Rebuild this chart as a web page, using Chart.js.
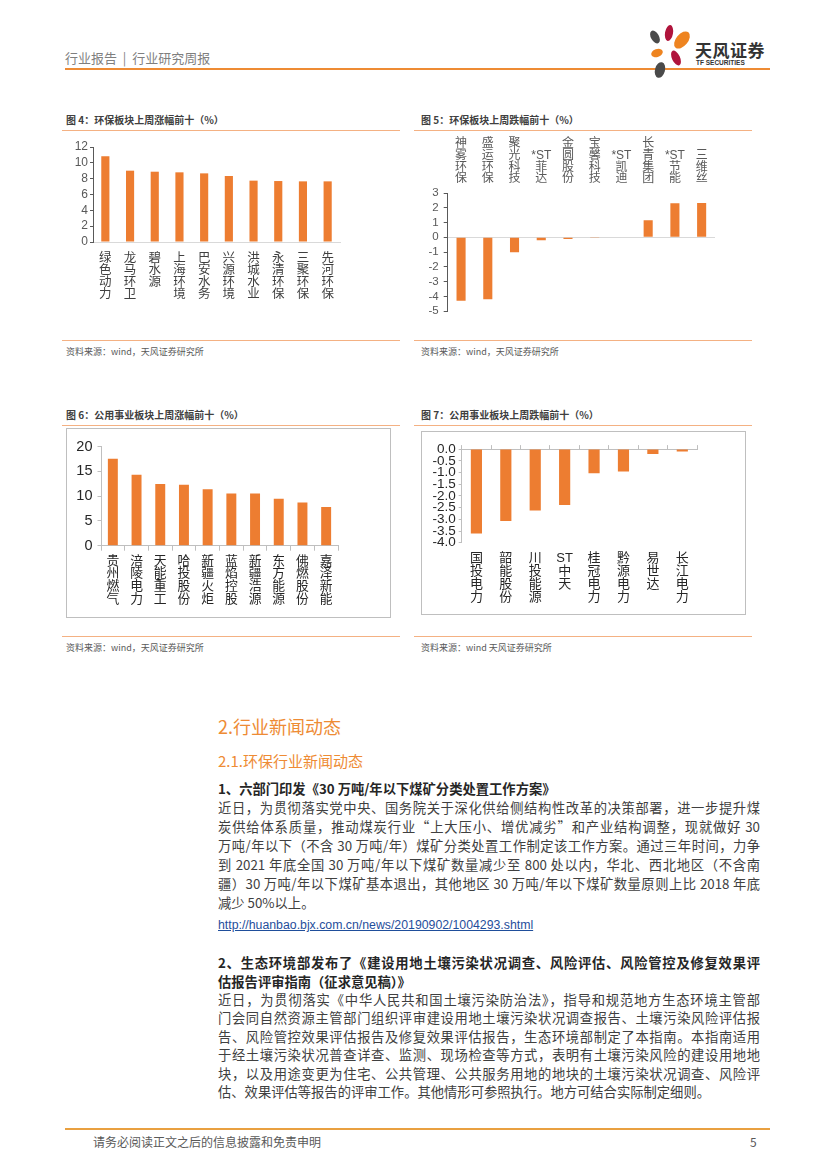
<!DOCTYPE html>
<html>
<head>
<meta charset="utf-8">
<script src="https://cdn.jsdelivr.net/npm/chart.js"></script>
<style>
body { margin: 0; background: #fff; }
#page { position: relative; width: 827px; height: 1169px; overflow: hidden; font-family: "Noto Sans CJK SC", "Liberation Sans", sans-serif; color: #404040; }
.abs { position: absolute; }
.ttl { font-size: 10px; font-weight: bold; color: #404040; white-space: nowrap; line-height: 12px; }
.src { font-size: 9px; color: #595959; white-space: nowrap; line-height: 12px; }
.rule { height: 0; border-top: 1.5px solid #F4B183; }
.box { border: 1px solid #bfbfbf; }
.ln { position: absolute; left: 218px; width: 542px; height: 19px; line-height: 19px; font-size: 13.3px; white-space: nowrap; color: #404040; }
.j { text-align: justify; text-align-last: justify; }
.b { font-weight: bold; color: #262626; }
canvas { position: absolute; }
</style>
</head>
<body>
<div id="page">
  <!-- header -->
  <div class="abs" style="left:65px;top:48px;font-size:13px;color:#7f7f7f;white-space:pre;">行业报告  |  行业研究周报</div>
  <div class="abs" style="left:65px;top:68px;width:705px;border-top:2px solid #EE8B34;"></div>
  <svg class="abs" style="left:640px;top:22px;" width="60" height="58">
    <ellipse cx="29" cy="11" rx="4" ry="8" fill="#B0143C" transform="rotate(10 29 11)"/>
    <ellipse cx="42" cy="18" rx="6" ry="10" fill="#EE8420" transform="rotate(40 42 18)"/>
    <ellipse cx="15" cy="15" rx="4" ry="7" fill="#4a4a4a" transform="rotate(-30 15 15)"/>
    <ellipse cx="17" cy="31" rx="6" ry="4" fill="#EE8420" transform="rotate(-20 17 31)"/>
    <ellipse cx="36" cy="36" rx="4" ry="8" fill="#B0143C" transform="rotate(-25 36 36)"/>
    <ellipse cx="20" cy="48" rx="5" ry="8" fill="#4a4a4a" transform="rotate(15 20 48)"/>
  </svg>
  <div class="abs" style="left:695px;top:37px;font-size:17px;font-weight:bold;color:#333;letter-spacing:0.5px;white-space:nowrap;">天风证券</div>
  <div class="abs" style="left:696px;top:59px;font-size:6.5px;font-weight:bold;color:#333;font-family:'Liberation Sans';white-space:nowrap;">TF SECURITIES</div>

  <!-- chart 4 -->
  <div class="abs ttl" style="left:66px;top:114px;">图 4：环保板块上周涨幅前十（%）</div>
  <div class="abs rule" style="left:62px;top:130px;width:338px;"></div>
  <canvas id="c4"></canvas>
  <div class="abs rule" style="left:62px;top:340px;width:338px;"></div>
  <div class="abs src" style="left:66px;top:346px;">资料来源：wind，天风证券研究所</div>

  <!-- chart 5 -->
  <div class="abs ttl" style="left:421px;top:114px;">图 5：环保板块上周跌幅前十（%）</div>
  <div class="abs rule" style="left:414px;top:130px;width:338px;"></div>
  <canvas id="c5"></canvas>
  <div class="abs rule" style="left:414px;top:340px;width:338px;"></div>
  <div class="abs src" style="left:421px;top:346px;">资料来源：wind，天风证券研究所</div>

  <!-- chart 6 -->
  <div class="abs ttl" style="left:66px;top:409px;">图 6：公用事业板块上周涨幅前十（%）</div>
  <div class="abs rule" style="left:62px;top:425px;width:338px;"></div>
  <div class="abs box" style="left:66px;top:428px;width:323px;height:188px;"></div>
  <canvas id="c6"></canvas>
  <div class="abs rule" style="left:62px;top:636px;width:338px;"></div>
  <div class="abs src" style="left:66px;top:642px;">资料来源：wind，天风证券研究所</div>

  <!-- chart 7 -->
  <div class="abs ttl" style="left:421px;top:409px;">图 7：公用事业板块上周跌幅前十（%）</div>
  <div class="abs rule" style="left:414px;top:425px;width:338px;"></div>
  <div class="abs box" style="left:421px;top:431px;width:323px;height:182px;"></div>
  <canvas id="c7"></canvas>
  <div class="abs rule" style="left:414px;top:636px;width:338px;"></div>
  <div class="abs src" style="left:421px;top:642px;">资料来源：wind 天风证券研究所</div>

  <!-- news text -->
  <div class="abs" style="left:218px;top:713px;font-size:18px;color:#EE8B34;white-space:nowrap;">2.行业新闻动态</div>
  <div class="abs" style="left:218px;top:750px;font-size:15px;color:#EE8B34;white-space:nowrap;">2.1.环保行业新闻动态</div>

  <div class="ln b" style="top:779px;">1、六部门印发《30 万吨/年以下煤矿分类处置工作方案》</div>
  <div class="ln j" style="top:798px;">近日，为贯彻落实党中央、国务院关于深化供给侧结构性改革的决策部署，进一步提升煤</div>
  <div class="ln j" style="top:817px;">炭供给体系质量，推动煤炭行业“上大压小、增优减劣”和产业结构调整，现就做好 30</div>
  <div class="ln j" style="top:836px;">万吨/年以下（不含 30 万吨/年）煤矿分类处置工作制定该工作方案。通过三年时间，力争</div>
  <div class="ln j" style="top:855px;">到 2021 年底全国 30 万吨/年以下煤矿数量减少至 800 处以内，华北、西北地区（不含南</div>
  <div class="ln j" style="top:874px;">疆）30 万吨/年以下煤矿基本退出，其他地区 30 万吨/年以下煤矿数量原则上比 2018 年底</div>
  <div class="ln" style="top:893px;">减少 50%以上。</div>
  <div class="ln" style="top:916px;font-size:12.3px;font-family:'Liberation Sans';color:#1F4E9B;text-decoration:underline;">http://huanbao.bjx.com.cn/news/20190902/1004293.shtml</div>

  <div class="ln b j" style="top:953px;">2、生态环境部发布了《建设用地土壤污染状况调查、风险评估、风险管控及修复效果评</div>
  <div class="ln b" style="top:972px;">估报告评审指南（征求意见稿）》</div>
  <div class="ln j" style="top:990px;">近日，为贯彻落实《中华人民共和国土壤污染防治法》，指导和规范地方生态环境主管部</div>
  <div class="ln j" style="top:1008px;">门会同自然资源主管部门组织评审建设用地土壤污染状况调查报告、土壤污染风险评估报</div>
  <div class="ln j" style="top:1027px;">告、风险管控效果评估报告及修复效果评估报告，生态环境部制定了本指南。本指南适用</div>
  <div class="ln j" style="top:1045px;">于经土壤污染状况普查详查、监测、现场检查等方式，表明有土壤污染风险的建设用地地</div>
  <div class="ln j" style="top:1064px;">块，以及用途变更为住宅、公共管理、公共服务用地的地块的土壤污染状况调查、风险评</div>
  <div class="ln" style="top:1082px;">估、效果评估等报告的评审工作。其他情形可参照执行。地方可结合实际制定细则。</div>

  <!-- footer -->
  <div class="abs" style="left:65px;top:1128px;width:705px;border-top:2px solid #E9A040;"></div>
  <div class="abs" style="left:93px;top:1133px;font-size:12px;color:#595959;white-space:nowrap;">请务必阅读正文之后的信息披露和免责申明</div>
  <div class="abs" style="left:750px;top:1133px;font-size:12px;color:#595959;">5</div>
</div>

<script>
// 图4 环保板块上周涨幅前十
var envUpNames = ['绿色动力', '龙马环卫', '碧水源', '上海环境', '巴安水务', '兴源环境', '洪城水业', '永清环保', '三聚环保', '先河环保'];
var envUpValues = [10.82, 9.01, 8.88, 8.80, 8.67, 8.34, 7.75, 7.70, 7.66, 7.66];
var envUpTicks = [0, 12, 2];      // min, max, step

// 图5 环保板块上周跌幅前十
var envDownNames = ['神雾环保', '盛运环保', '聚光科技', '*ST菲达', '金圆股份', '宝馨科技', '*ST凯迪', '长青集团', '*ST节能', '三维丝'];
var envDownValues = [-4.30, -4.20, -1.02, -0.20, -0.12, -0.02, 0, 1.16, 2.31, 2.33];
var envDownTicks = [-5, 3, 1];

// 图6 公用事业板块上周涨幅前十
var utilUpNames = ['贵州燃气', '涪陵电力', '天能重工', '哈投股份', '新疆火炬', '蓝焰控股', '新疆浩源', '东方能源', '佛燃股份', '嘉泽新能'];
var utilUpValues = [17.59, 14.33, 12.44, 12.31, 11.40, 10.55, 10.55, 9.51, 8.73, 7.82];
var utilUpTicks = [0, 20, 5];

// 图7 公用事业板块上周跌幅前十
var utilDownNames = ['国投电力', '韶能股份', '川投能源', 'ST中天', '桂冠电力', '黔源电力', '易世达', '长江电力'];
var utilDownValues = [-3.61, -3.07, -2.62, -2.39, -1.03, -0.96, -0.21, -0.10];
var utilDownTicks = [-4, 0, 0.5];

var ORANGE = '#ED7D31';
Chart.defaults.font.family = '"Liberation Sans", "Noto Sans CJK SC", sans-serif';
Chart.defaults.animation = false;

// vertical labels: one char per line, keep "ST"/"*ST" together
function vert(s) {
	return s.match(/\*?ST|./g);
}

function place(id, left, top, w, h) {
	var c = document.getElementById(id);
	c.width = w;
	c.height = h;
	c.style.left = left + 'px';
	c.style.top = top + 'px';
	return c.getContext('2d');
}

function zeroOnly(col) {
	return function(ctx) {
		return ctx.tick && ctx.tick.value === 0 ? col : 'rgba(0,0,0,0)';
	};
}

// chart 4
new Chart(place('c4', 65, 137, 300, 167), {
	type : 'bar',
	data : {
		labels : envUpNames.map(vert),
		datasets : [ {
			data : envUpValues,
			backgroundColor : ORANGE,
			categoryPercentage : 1,
			barPercentage : 0.33
		} ]
	},
	options : {
		responsive : false,
		layout : { padding : { top : 10, right : 25, bottom : 0, left : 0 } },
		plugins : { legend : { display : false }, tooltip : { enabled : false } },
		scales : {
			x : {
				grid : { display : false, drawTicks : false },
				border : { color : '#d9d9d9' },
				ticks : { color : '#404040', font : { size : 12.5, lineHeight : 0.97 }, padding : 10, maxRotation : 0, autoSkip : false },
				afterFit : function(s) { s.height = 62; }
			},
			y : {
				min : envUpTicks[0], max : envUpTicks[1],
				ticks : { stepSize : envUpTicks[2], autoSkip : false, color : '#595959', font : { size : 12 }, padding : 2 },
				grid : { drawOnChartArea : false, tickLength : 3, tickColor : '#595959' },
				border : { color : '#595959' },
				afterFit : function(s) { s.width = 28; }
			}
		}
	}
});

// chart 5
new Chart(place('c5', 420, 135, 305, 188), {
	type : 'bar',
	data : {
		labels : envDownNames.map(vert),
		datasets : [ {
			data : envDownValues,
			backgroundColor : ORANGE,
			categoryPercentage : 1,
			barPercentage : 0.34
		} ]
	},
	options : {
		responsive : false,
		layout : { padding : { top : 0, right : 10, bottom : 8, left : 0 } },
		plugins : { legend : { display : false }, tooltip : { enabled : false } },
		scales : {
			x : {
				position : 'top',
				grid : { display : false, drawTicks : false },
				border : { display : false },
				ticks : { color : '#595959', font : { size : 12, lineHeight : 0.98 }, padding : 8, maxRotation : 0, autoSkip : false },
				afterFit : function(s) { s.height = 58; }
			},
			y : {
				min : envDownTicks[0], max : envDownTicks[1],
				ticks : { stepSize : envDownTicks[2], autoSkip : false, color : '#595959', font : { size : 11.5 }, padding : 5 },
				grid : { color : zeroOnly('#d9d9d9'), tickLength : 4, tickColor : '#595959' },
				border : { color : '#595959' },
				afterFit : function(s) { s.width = 27.7; }
			}
		}
	}
});

// chart 6
new Chart(place('c6', 70, 433, 310, 179), {
	type : 'bar',
	data : {
		labels : utilUpNames.map(vert),
		datasets : [ {
			data : utilUpValues,
			backgroundColor : ORANGE,
			categoryPercentage : 1,
			barPercentage : 0.42
		} ]
	},
	options : {
		responsive : false,
		layout : { padding : { top : 10, right : 42, bottom : 0, left : 0 } },
		plugins : { legend : { display : false }, tooltip : { enabled : false } },
		scales : {
			x : {
				grid : { drawOnChartArea : false, tickLength : 5, color : '#bfbfbf' },
				border : { color : '#bfbfbf' },
				ticks : { color : '#262626', font : { size : 12.8, lineHeight : 1.0 }, padding : 4, maxRotation : 0, autoSkip : false },
				afterFit : function(s) { s.height = 66.3; }
			},
			y : {
				min : utilUpTicks[0], max : utilUpTicks[1],
				ticks : { stepSize : utilUpTicks[2], autoSkip : false, color : '#262626', font : { size : 14.5 }, padding : 5 },
				grid : { drawOnChartArea : false, tickLength : 3.5, tickColor : '#bfbfbf' },
				border : { color : '#bfbfbf' },
				afterFit : function(s) { s.width = 31; }
			}
		}
	}
});

// chart 7
new Chart(place('c7', 425, 438, 315, 172), {
	type : 'bar',
	data : {
		labels : utilDownNames.map(vert),
		datasets : [ {
			data : utilDownValues,
			backgroundColor : ORANGE,
			categoryPercentage : 1,
			barPercentage : 0.38
		} ]
	},
	options : {
		responsive : false,
		layout : { padding : { top : 10, right : 43, bottom : 0, left : 0 } },
		plugins : { legend : { display : false }, tooltip : { enabled : false } },
		scales : {
			x : {
				grid : { display : false, drawTicks : false },
				border : { display : false },
				ticks : { color : '#262626', font : { size : 13, lineHeight : 1.0 }, padding : 9, maxRotation : 0, autoSkip : false },
				afterFit : function(s) { s.height = 67.3; }
			},
			x2 : {
				type : 'category',
				position : 'top',
				labels : utilDownNames,
				offset : true,
				ticks : { display : false },
				grid : { drawOnChartArea : false, tickLength : 4, color : '#bfbfbf', offset : true },
				border : { color : '#bfbfbf' },
				afterFit : function(s) { s.height = 0; }
			},
			y : {
				min : utilDownTicks[0], max : utilDownTicks[1],
				ticks : {
					stepSize : utilDownTicks[2], autoSkip : false, color : '#262626', font : { size : 13.5 }, padding : 3,
					callback : function(v) { return Number(v).toFixed(1); }
				},
				grid : { drawOnChartArea : false, tickLength : 3, tickColor : '#bfbfbf' },
				border : { color : '#bfbfbf' },
				afterFit : function(s) { s.width = 36.7; }
			}
		}
	}
});
</script>
</body>
</html>
